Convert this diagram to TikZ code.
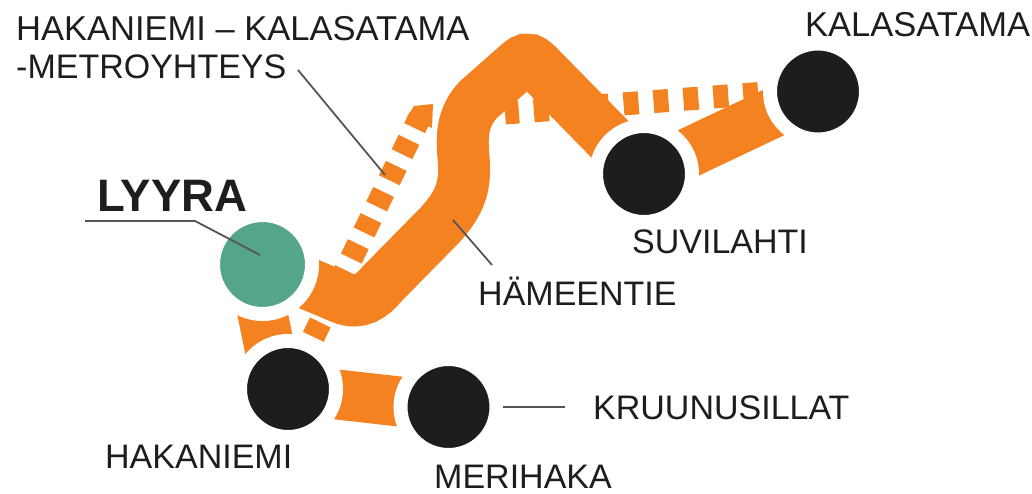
\documentclass[tikz,border=0pt]{standalone}
\usepackage{fontspec}
\setmainfont{Liberation Sans}
\usetikzlibrary{backgrounds}
\definecolor{routeorange}{HTML}{F58220}
\definecolor{stationblack}{HTML}{1D1D1B}
\definecolor{lyyragreen}{HTML}{55A58A}
\definecolor{leadergray}{HTML}{555555}
\begin{document}
\begin{tikzpicture}[x=1pt, y=-1pt,
    station/.style={circle, fill=stationblack, draw=white, line width=14pt, inner sep=0pt, minimum size=96pt},
    route/.style={draw=routeorange, line width=50pt},
    metro/.style={draw=routeorange, line width=23pt, dash pattern=on 16pt off 13pt},
    leader/.style={draw=leadergray, line width=1.8pt},
    place/.style={anchor=base west, inner sep=0pt, text=stationblack, font=\fontsize{34}{36}\selectfont}]
    \useasboundingbox (0,0) rectangle (1032,494);
    \node[station, fill=lyyragreen, minimum size=99pt] (lyyra) at (262.5,264.5) {};
    \node[station] (hakaniemi) at (288,389) {};
    \node[station] (merihaka) at (448.5,407) {};
    \node[station] (suvilahti) at (644,174) {};
    \node[station] (kalasatama) at (818,91.5) {};
    \coordinate (metrotip) at (420,117);
    \coordinate (metrostart) at (505,113);
    \coordinate (metroeast) at (818,89);
    \begin{scope}[on background layer]
        \draw[metro] (hakaniemi.center) -- (metrotip);
        \fill[routeorange] (407,117) -- (414,106) -- (433,104) -- (432,128) -- cycle;
        \draw[metro, dash pattern=on 15pt off 15pt] (metroeast) -- (metrostart);
        \draw[route] ([xshift=-10pt]lyyra.center) -- ([xshift=-10pt]hakaniemi.center);
        \draw[route] (hakaniemi.center) -- (merihaka.center);
        \draw[route] (suvilahti.center) -- (kalasatama.center);
        \draw[route, line width=52pt] (lyyra.center) -- (342,298) .. controls (360,305) and (372,296) .. (382,284)
            -- (440,225) .. controls (458,205) and (465,190) .. (464,165)
            .. controls (463,145) and (458,122) .. (478,100)
            -- (520,63) .. controls (528,56) and (533,61) .. (539,67) -- (suvilahti.center);
    \end{scope}
    \node[place, font=\fontsize{34.5}{36}\selectfont] (tunnel1) at (16,41) {HAKANIEMI – KALASATAMA};
    \node[place] (tunnel2) at (16,79) {-METROYHTEYS};
    \node[place, font=\bfseries\fontsize{45.5}{46}\selectfont] (lyyralabel) at (97,212) {LYYRA};
    \node[place, font=\fontsize{34.5}{36}\selectfont] (kalasatamalabel) at (805,37) {KALASATAMA};
    \node[place] (suvilahtilabel) at (632,253) {SUVILAHTI};
    \node[place] (hameentie) at (478,305) {HÄMEENTIE};
    \node[place] (kruunusillat) at (593,419) {KRUUNUSILLAT};
    \node[place] (hakaniemilabel) at (105,468) {HAKANIEMI};
    \node[place] (merihakalabel) at (434,488) {MERIHAKA};
    \coordinate (lyyrafree) at (85,221);
    \coordinate (lyyrabend) at (195,221);
    \coordinate (lyyraend) at (260,255);
    \coordinate (metrofrom) at (298,70);
    \coordinate (metroto) at (385,175);
    \coordinate (streetfrom) at (492,265);
    \coordinate (streetto) at (453,220);
    \coordinate (bridgefrom) at (565,407);
    \coordinate (bridgeto) at (503,407);
    \draw[leader] (lyyrafree) -- (lyyrabend) -- (lyyraend);
    \draw[leader] (metrofrom) -- (metroto);
    \draw[leader] (streetfrom) -- (streetto);
    \draw[leader] (bridgefrom) -- (bridgeto);
\end{tikzpicture}
\end{document}
